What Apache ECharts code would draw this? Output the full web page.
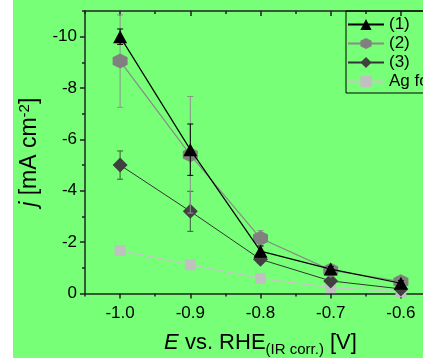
<!DOCTYPE html>
<html>
<head>
<meta charset="utf-8">
<script src="https://cdn.jsdelivr.net/npm/echarts@6/dist/echarts.min.js"></script>
<style>
  html, body { margin: 0; padding: 0; background: #fff; overflow: hidden; width: 423px; height: 358px; }
  #chart { position: absolute; left: 13px; top: 0; width: 450px; height: 358px; background: #77ff77; }
</style>
</head>
<body>
<div id="chart"></div>
<script>
// potentials (V vs RHE, IR corrected)
const potentials = [-1.0, -0.9, -0.8, -0.7, -0.6]
// current densities j [mA cm^-2]
const j1 = [-10.0, -5.6, -1.65, -0.95, -0.4]
const j2 = [-9.05, -5.4, -2.15, -0.91, -0.46]
const j3 = [-5.0, -3.2, -1.33, -0.49, -0.18]
const jAg = [-1.68, -1.12, -0.59, -0.23, -0.07]
// error bar half widths
const err1 = [0.3, 1.0, 0.2, 0.1, 0.1]
const err2 = [1.8, 2.27, 0.3, 0.1, 0.1]
const err3 = [0.55, 0.78, 0.15, 0.1, 0.1]

const xMajor = [-1.0, -0.9, -0.8, -0.7, -0.6]
const xMinor = [-1.05, -0.95, -0.85, -0.75, -0.65, -0.55]
const yMajor = [-10, -8, -6, -4, -2, 0]
const yMinor = [-11, -9, -7, -5, -3, -1]

const hexagon = 'path://M50,0 L93.3,25 L93.3,75 L50,100 L6.7,75 L6.7,25 Z'
const axisColor = '#222'

const chart = echarts.init(document.getElementById('chart'))

const pairs = (ys) => potentials.map((x, i) => [x, ys[i]])
const errPairs = (ys, es) => potentials.map((x, i) => [x, ys[i], es[i]])

const errorSeries = (name, ys, es, color, z) => ({
  type: 'custom',
  name: name + ' err',
  xAxisIndex: 0,
  yAxisIndex: 0,
  z: z,
  silent: true,
  data: errPairs(ys, es),
  renderItem(params, api) {
    const x = api.value(0)
    const y = api.value(1)
    const e = api.value(2)
    const hi = api.coord([x, y - e])
    const lo = api.coord([x, y + e])
    const w = 3
    const style = { stroke: color, lineWidth: 1 }
    return {
      type: 'group',
      children: [
        { type: 'line', shape: { x1: hi[0], y1: hi[1], x2: lo[0], y2: lo[1] }, style },
        { type: 'line', shape: { x1: hi[0] - w, y1: hi[1], x2: hi[0] + w, y2: hi[1] }, style },
        { type: 'line', shape: { x1: lo[0] - w, y1: lo[1], x2: lo[0] + w, y2: lo[1] }, style }
      ]
    }
  }
})

const baseX = {
  type: 'value',
  min: -1.05,
  max: -0.55,
  splitLine: { show: false }
}
const baseY = {
  type: 'value',
  min: -11,
  max: 0,
  inverse: true,
  splitLine: { show: false }
}

const option = {
  animation: false,
  textStyle: { fontFamily: 'Liberation Sans, Arial, sans-serif', color: '#000' },
  grid: { left: 72, top: 11, right: 27, bottom: 64.5, outerBoundsMode: 'none', containLabel: false },
  legend: {
    data: ['(1)', '(2)', '(3)', 'Ag foil'],
    orient: 'vertical',
    left: 333,
    top: 11,
    itemWidth: 36,
    itemHeight: 14,
    itemGap: 2,
    padding: [5, 40, 3, 1],
    borderColor: '#000',
    borderWidth: 1,
    textStyle: { fontSize: 17, lineHeight: 17, color: '#000', padding: [0, 0, 0, 0] }
  },
  xAxis: [
    Object.assign({}, baseX, {
      position: 'bottom',
      axisLine: { lineStyle: { color: axisColor, width: 1.5 } },
      axisTick: { inside: false, length: 5, customValues: xMajor, lineStyle: { color: axisColor, width: 1.5 } },
      axisLabel: { customValues: xMajor, fontSize: 17, color: '#000', margin: 11, formatter: (v) => v.toFixed(1) },
      name: '{i|E} vs. RHE{sub|(IR corr.)} [V]',
      nameLocation: 'middle',
      nameGap: 35,
      nameTextStyle: {
        fontSize: 22,
        color: '#000',
        rich: {
          i: { fontSize: 22, fontStyle: 'italic' },
          sub: { fontSize: 15, padding: [14, 0, 0, 0] }
        }
      }
    }),
    Object.assign({}, baseX, {
      position: 'bottom',
      axisLine: { show: false },
      axisTick: { inside: false, length: 3, customValues: xMinor, lineStyle: { color: axisColor, width: 1.5 } },
      axisLabel: { show: false }
    }),
    Object.assign({}, baseX, {
      position: 'top',
      axisLine: { lineStyle: { color: axisColor, width: 1.5 } },
      axisTick: { inside: true, length: 5, customValues: xMajor, lineStyle: { color: axisColor, width: 1.5 } },
      axisLabel: { show: false }
    }),
    Object.assign({}, baseX, {
      position: 'top',
      axisLine: { show: false },
      axisTick: { inside: true, length: 3, customValues: xMinor, lineStyle: { color: axisColor, width: 1.5 } },
      axisLabel: { show: false }
    })
  ],
  yAxis: [
    Object.assign({}, baseY, {
      position: 'left',
      axisLine: { show: true, lineStyle: { color: axisColor, width: 1.5 } },
      axisTick: { show: true, inside: false, length: 5, customValues: yMajor, lineStyle: { color: axisColor, width: 1.5 } },
      axisLabel: { customValues: yMajor, fontSize: 17, color: '#000', margin: 8 },
      name: '{i|j} [mA cm{sup|-2}]',
      nameLocation: 'middle',
      nameGap: 36,
      nameRotate: 90,
      nameTextStyle: {
        fontSize: 23,
        color: '#000',
        rich: {
          i: { fontSize: 23, fontStyle: 'italic' },
          sup: { fontSize: 15, padding: [0, 0, 11, 0] }
        }
      }
    }),
    Object.assign({}, baseY, {
      position: 'left',
      axisLine: { show: false },
      axisTick: { show: true, inside: false, length: 3, customValues: yMinor, lineStyle: { color: axisColor, width: 1.5 } },
      axisLabel: { show: false }
    })
  ],
  series: [
    {
      name: 'Ag foil', type: 'line', z: 2, data: pairs(jAg),
      symbol: 'rect', symbolSize: 11,
      lineStyle: { color: '#c8c8c8', width: 1.2 },
      itemStyle: { color: '#c0c0c0' }
    },
    errorSeries('(3)', j3, err3, '#3a5a3a', 3),
    {
      name: '(3)', type: 'line', z: 4, data: pairs(j3),
      symbol: 'diamond', symbolSize: [15, 15],
      lineStyle: { color: '#333', width: 1 },
      itemStyle: { color: '#404040' }
    },
    errorSeries('(2)', j2, err2, '#909090', 5),
    {
      name: '(2)', type: 'line', z: 6, data: pairs(j2),
      symbol: hexagon, symbolSize: 15,
      lineStyle: { color: '#8a8a8a', width: 1.2 },
      itemStyle: { color: '#808080' }
    },
    errorSeries('(1)', j1, err1, '#000', 7),
    {
      name: '(1)', type: 'line', z: 8, data: pairs(j1),
      symbol: 'triangle', symbolSize: [14, 13],
      lineStyle: { color: '#000', width: 1.2 },
      itemStyle: { color: '#000' }
    }
  ]
}

chart.setOption(option)
</script>
</body>
</html>
